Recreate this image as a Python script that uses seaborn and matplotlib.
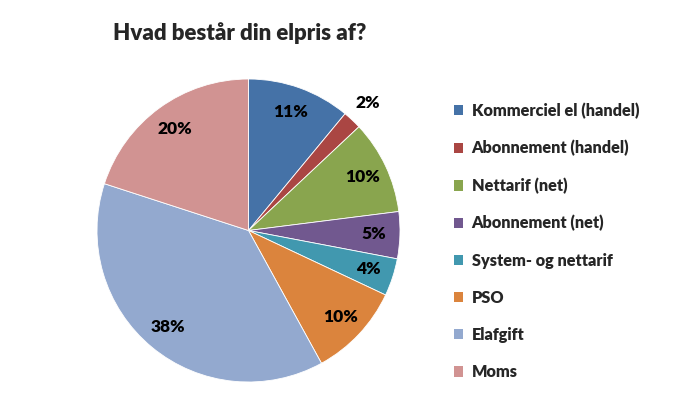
import matplotlib
matplotlib.use("Agg")
import matplotlib.pyplot as plt
import seaborn as sns
from matplotlib.patches import Patch

categories = ["Kommerciel el (handel)", "Abonnement (handel)", "Nettarif (net)",
              "Abonnement (net)", "System- og nettarif", "PSO", "Elafgift", "Moms"]
shares = [11, 2, 10, 5, 4, 10, 38, 20]
colors = ["#4572A7", "#AA4643", "#89A54E", "#71588F", "#4198AF", "#DB843D", "#93A9CF", "#D19392"]
title = "Hvad består din elpris af?"

sns.set_theme(style="white")
plt.rcParams["font.family"] = ["Lato", "DejaVu Sans"]

fig = plt.figure(figsize=(7, 4.2), dpi=100)
ax = fig.add_axes([97 / 700, 38 / 420, 303 / 700, 303 / 420])

wedges, texts, autotexts = ax.pie(
    shares, colors=colors, startangle=90, counterclock=False,
    autopct="%d%%", pctdistance=0.83,
    wedgeprops=dict(edgecolor="white", linewidth=0.6),
    textprops=dict(fontsize=12.5, fontweight="heavy", color="black"),
)
# small slice gets its label outside
small = shares.index(min(shares))
x, y = autotexts[small].get_position()
autotexts[small].set_position((x / 0.83 * 1.15, y / 0.83 * 1.15))
ax.set_xlim(-1, 1)
ax.set_ylim(-1, 1)
ax.set_aspect("equal")

fig.text(240 / 700, 1 - 33 / 420, title, ha="center", va="center",
         fontsize=16, fontweight="heavy")

handles = [Patch(facecolor=c, edgecolor="none") for c in colors]
fig.legend(handles, categories, loc="upper left", bbox_to_anchor=(439 / 700, 1 - 88 / 420),
           frameon=False, handlelength=0.6, handleheight=0.6, handletextpad=0.5,
           labelspacing=1.3, prop=dict(size=11.7, weight="heavy"))

fig.savefig("out.png", dpi=100)
